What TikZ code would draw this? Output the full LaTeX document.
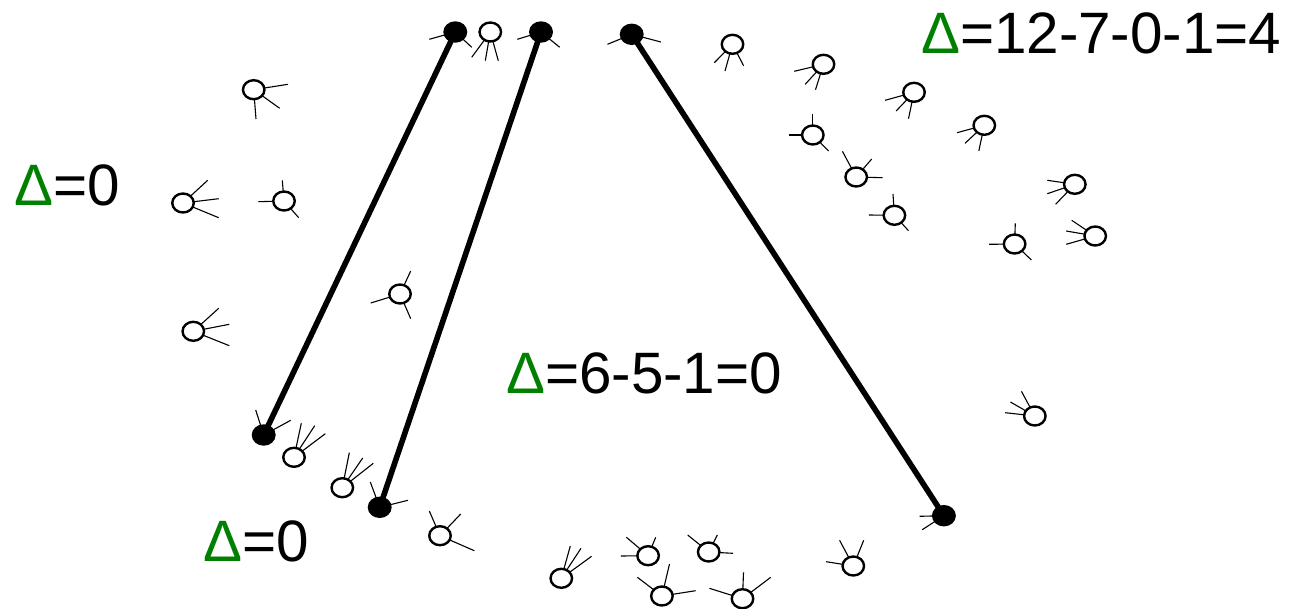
\documentclass[tikz,border=0pt]{standalone}
\usepackage{fontspec}
\setmainfont{Liberation Sans}
\usetikzlibrary{shapes.geometric}
\definecolor{deltagreen}{RGB}{0,128,0}
\tikzset{
  vertex/.style={ellipse,draw=black,line width=2.4pt,minimum width=21.5pt,minimum height=19pt,inner sep=0pt,outer sep=0pt},
  openv/.style={vertex,fill=white},
  solidv/.style={vertex,fill=black},
  spoke/.style={draw=black,line width=1.1pt},
  chord/.style={draw=black,line width=5.6pt},
  lab/.style={anchor=base west,inner sep=0pt,outer sep=0pt,font=\fontsize{58.4}{60}\selectfont}
}
\newcommand{\hub}[4]{%
  \node[#1] (#2) at #3 {};
  \foreach \sx/\sy [count=\k] in {#4} {
    \coordinate (#2-\k) at (\sx,\sy);
    \draw[spoke] (#2) -- (#2-\k);
  }%
}
\newcommand{\dl}{\textcolor{deltagreen}{Δ}}
\begin{document}
\begin{tikzpicture}[x=1pt,y=-1pt]
\useasboundingbox (0,0) rectangle (1298,608);
% solid vertices
\hub{solidv}{sa}{(455.3,32)}{429.3/39.3,471.7/47.3}
\hub{solidv}{sb}{(541,32)}{517.3/39.3,559.7/47.3}
\hub{solidv}{sc}{(631.7,34.3)}{607.5/44.3,660.9/42}
\hub{solidv}{sd}{(263.7,435)}{255.7/410,290.7/420.3}
\hub{solidv}{se}{(379.7,507.3)}{370.3/482,408/500.3}
\hub{solidv}{sf}{(943.9,515.7)}{919.5/516.3,922.2/529.7}
% chords
\draw[chord] (sa) -- (sd);
\draw[chord] (sb) -- (se);
\draw[chord] (sc) -- (sf);
% left region
\hub{openv}{a1}{(253.7,89.7)}{288/84.3,279.7/108.3,256/119}
\hub{openv}{a2}{(183,203)}{207.7/180.3,218.7/198.7,218.7/217.7}
\hub{openv}{a3}{(284,201)}{282.3/180.3,258.3/201.7,298.7/217.7}
\hub{openv}{a4}{(193.3,331.3)}{218.7/308.3,229.3/324.3,229.3/345.7}
\hub{openv}{a5}{(400,294)}{410.7/271,370.7/303,410.7/318.7}
\hub{openv}{a6}{(490.3,32)}{471.7/57.3,485.3/60.7,498.3/60.7}
% lower left
\hub{openv}{b1}{(294,457.3)}{301.3/423.3,314.7/425.7,325.3/433.7}
\hub{openv}{b2}{(342.3,487.7)}{349.3/452.7,362.7/458,373.3/463.3}
\hub{openv}{b3}{(440,535.7)}{429.3/511,460.7/514,474.3/550.7}
% right region
\hub{openv}{c1}{(732.5,44.3)}{714.3/62.7,725/71,743.6/65.7}
\hub{openv}{c2}{(823.5,64.3)}{794.2/71.3,805.2/84.3,815.5/89.7}
\hub{openv}{c3}{(914,92.3)}{885.1/100.3,896.1/111,908.5/118.7}
\hub{openv}{c4}{(984.3,125.3)}{957/132.7,965/143.3,978.8/151}
\hub{openv}{c5}{(812.8,135)}{812.8/114,789/135,828.6/151}
\hub{openv}{c6}{(856.2,177)}{842.4/151.3,871.7/159,882.7/177.7}
\hub{openv}{c7}{(894.4,215.3)}{893/194,868.9/215,908.5/230.7}
\hub{openv}{c8}{(1074.8,184.3)}{1047.3/180.3,1047.3/193.7,1055.6/204.3}
\hub{openv}{c9}{(1095.2,236)}{1071.7/220.3,1066.2/231,1066.2/244.3}
\hub{openv}{c10}{(1014.6,244)}{1015.3/223.3,989.1/244.3,1031.4/260}
\hub{openv}{c11}{(1034.8,416)}{1021.4/391.3,1010.4/402,1005.2/412.7}
% bottom
\hub{openv}{d1}{(853.3,566)}{839.6/540.3,863.7/540.3,826.1/561.7}
\hub{openv}{d2}{(561.3,578.3)}{570.3/546,581/548.3,591.6/556.3}
\hub{openv}{d3}{(648.1,555.7)}{626.4/537.3,655.7/537.3,620.9/556}
\hub{openv}{d4}{(708.7,552)}{687.7/535,717.3/535,732.8/553.3}
\hub{openv}{d5}{(661.9,596)}{637.4/577.3,669.5/564,695.6/590.7}
\hub{openv}{d6}{(742.5,598.7)}{709.4/588.3,743.5/572.3,770.7/577.3}
% labels
\node[lab] (l1) at (921,53) {\dl=12-7-0-1=4};
\node[lab] (l2) at (14,205) {\dl=0};
\node[lab] (l3) at (506,393) {\dl=6-5-1=0};
\node[lab] (l4) at (203,561) {\dl=0};
\end{tikzpicture}
\end{document}
